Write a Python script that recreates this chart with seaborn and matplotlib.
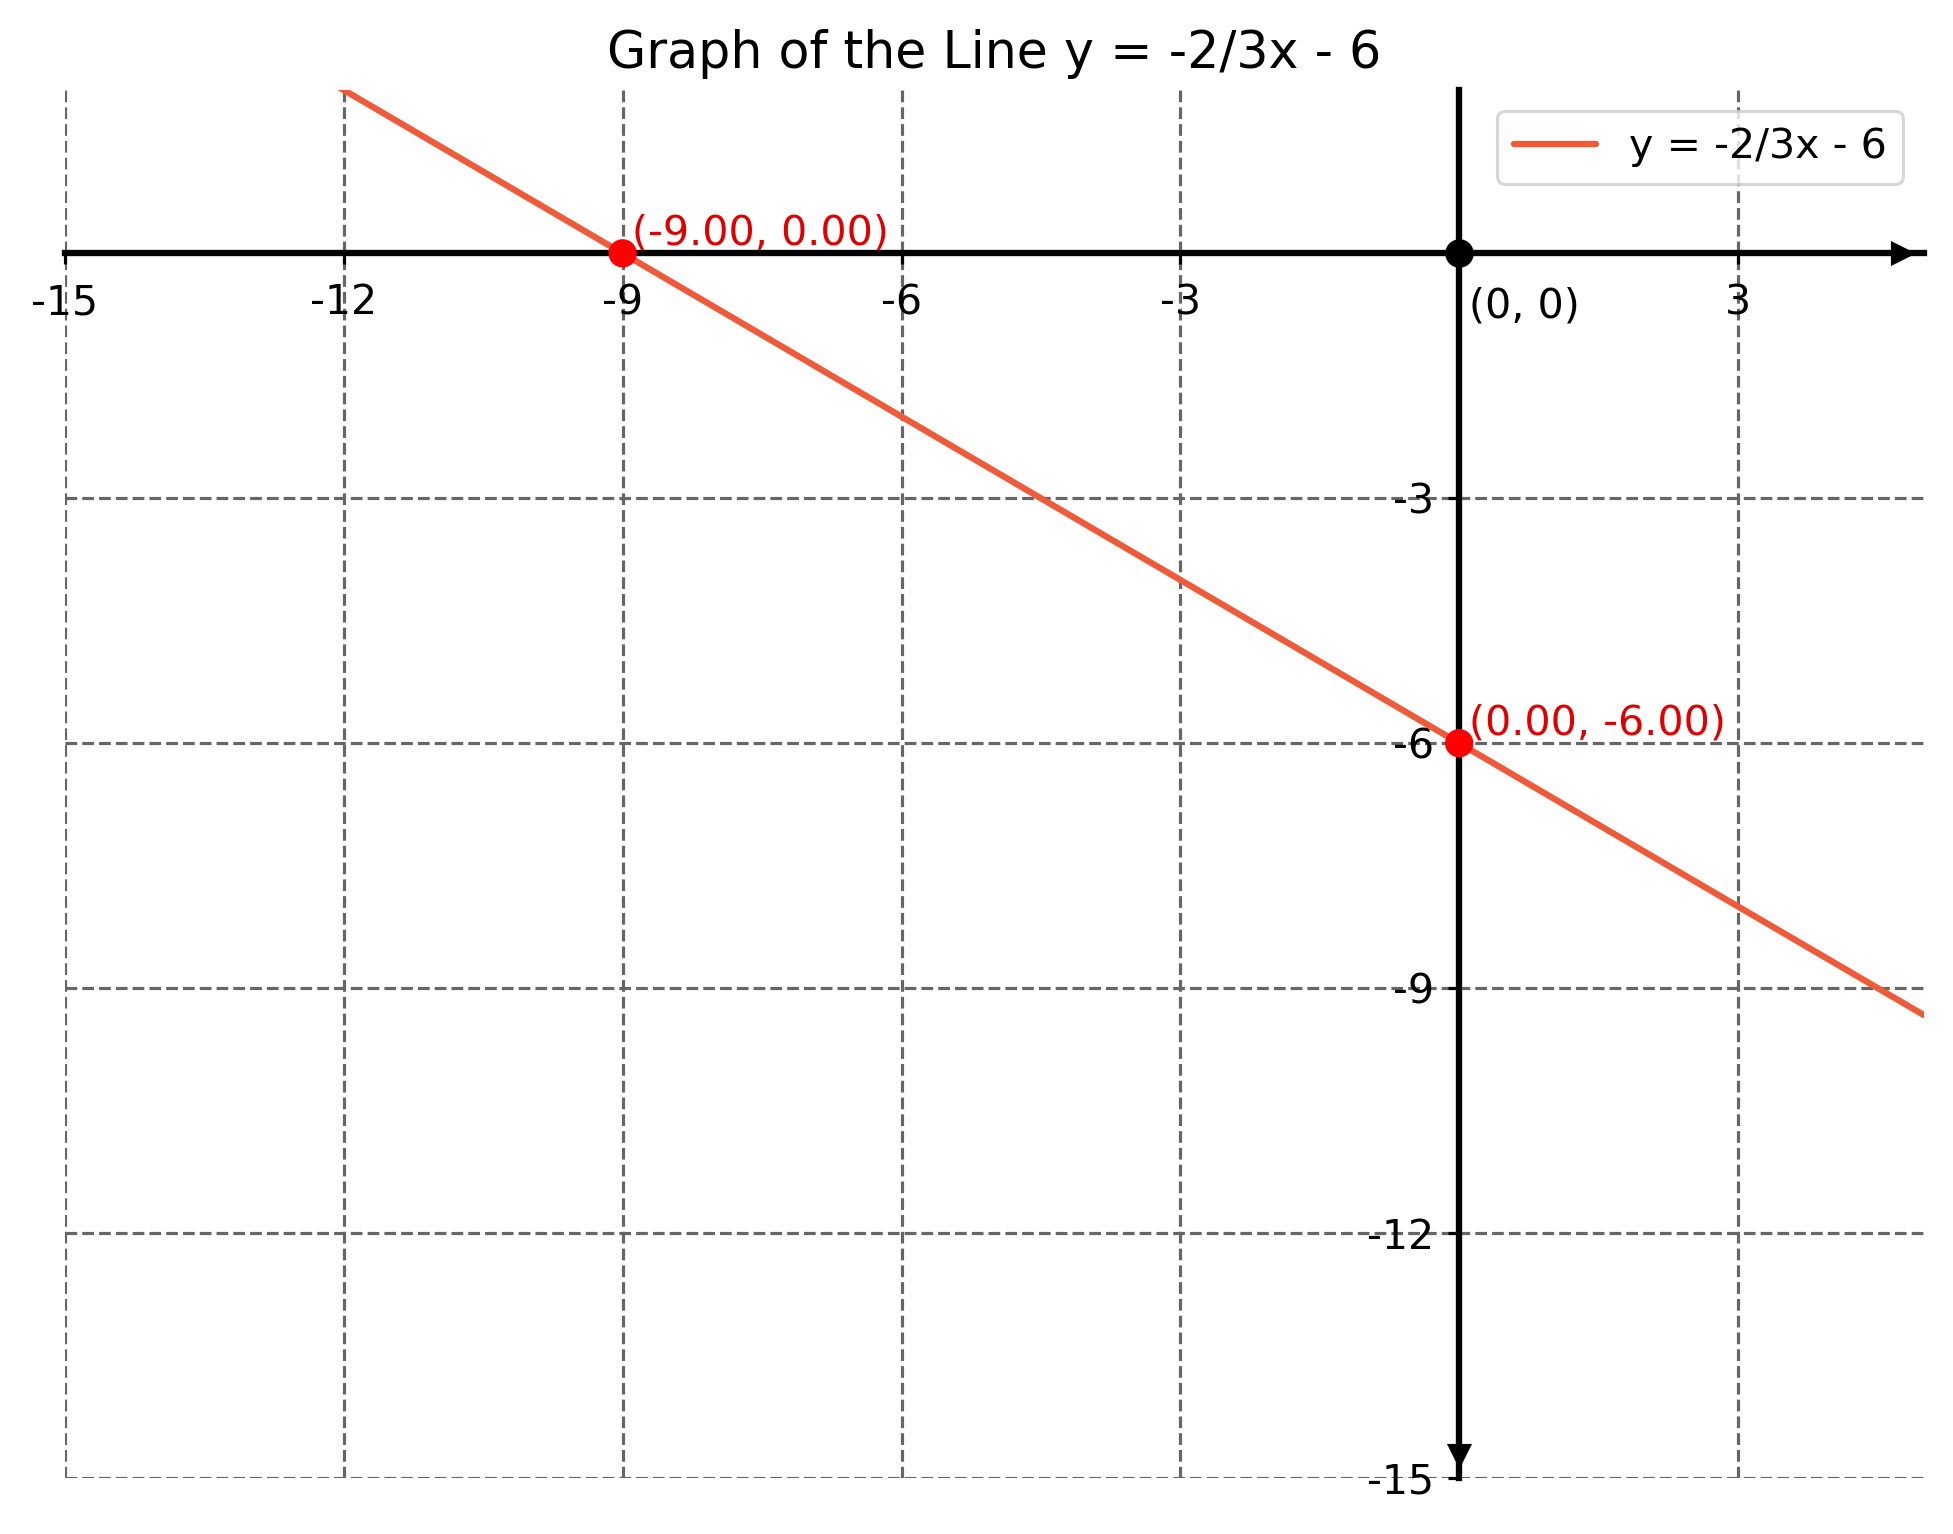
import matplotlib
matplotlib.use("Agg")
import matplotlib.pyplot as plt
import seaborn as sns

# line y = -2/3x - 6
line_x = [-15, -12, -9, -6, -3, 0, 3, 5]
line_y = [4.0, 2.0, 0.0, -2.0, -4.0, -6.0, -8.0, -9.33]

# marked points (intercepts)
point_x = [-9, 0]
point_y = [0, -6]
point_labels = ["(-9.00, 0.00)", "(0.00, -6.00)"]

x_ticks = [-15, -12, -9, -6, -3, 3]
y_ticks = [-3, -6, -9, -12, -15]

title = "Graph of the Line y = -2/3x - 6"
legend_label = "y = -2/3x - 6"

sns.set_style("ticks")
plt.rcParams['font.family'] = ['DejaVu Sans']
plt.rcParams['axes.unicode_minus'] = False
plt.rcParams['text.color'] = 'black'

DPI = 228
fig = plt.figure(figsize=(1953 / DPI, 1534 / DPI), dpi=DPI)
ax = fig.add_axes([0.0333, 0.0365, 0.9518, 0.9048])

sns.lineplot(x=line_x, y=line_y, ax=ax, color="#EE5A3A", linewidth=2,
             label=legend_label, zorder=3)
sns.scatterplot(x=point_x, y=point_y, ax=ax, color="red", s=80,
                edgecolor="none", zorder=5, clip_on=False)
ax.plot(0, 0, "o", color="black", markersize=8, zorder=6, clip_on=False)

for px, py, lab in zip(point_x, point_y, point_labels):
    ax.annotate(lab, (px, py), xytext=(3, 0), textcoords="offset points",
                color="#e00000", fontsize=13, ha="left", va="bottom")
ax.annotate("(0, 0)", (0, 0), xytext=(3, -10.5), textcoords="offset points",
            color="black", fontsize=13, ha="left", va="top")

ax.set_xlim(-15, 5)
ax.set_ylim(-15, 2)

# axes through the origin
for side in ["top", "right"]:
    ax.spines[side].set_visible(False)
ax.spines["left"].set_position("zero")
ax.spines["bottom"].set_position("zero")
for side in ["left", "bottom"]:
    ax.spines[side].set_linewidth(2)
    ax.spines[side].set_color("black")
ax.plot(4.76, 0, ">", color="black", markersize=6.5, clip_on=False, zorder=6)
ax.plot(0, -14.72, "v", color="black", markersize=6.5, clip_on=False, zorder=6)

ax.set_xticks(x_ticks)
ax.set_yticks(y_ticks)
ax.tick_params(axis="both", labelsize=13, colors="black", width=1, length=3.5)
ax.tick_params(axis="x", pad=6)
ax.tick_params(axis="y", pad=4.3)
ax.grid(True, linestyle="--", linewidth=1, color="#666666")

ax.set_title(title, fontsize=16, color="black", pad=7)
leg = ax.legend(loc="upper right", fontsize=13)
for t in leg.get_texts():
    t.set_color("black")

fig.savefig("out.png", dpi=DPI)
